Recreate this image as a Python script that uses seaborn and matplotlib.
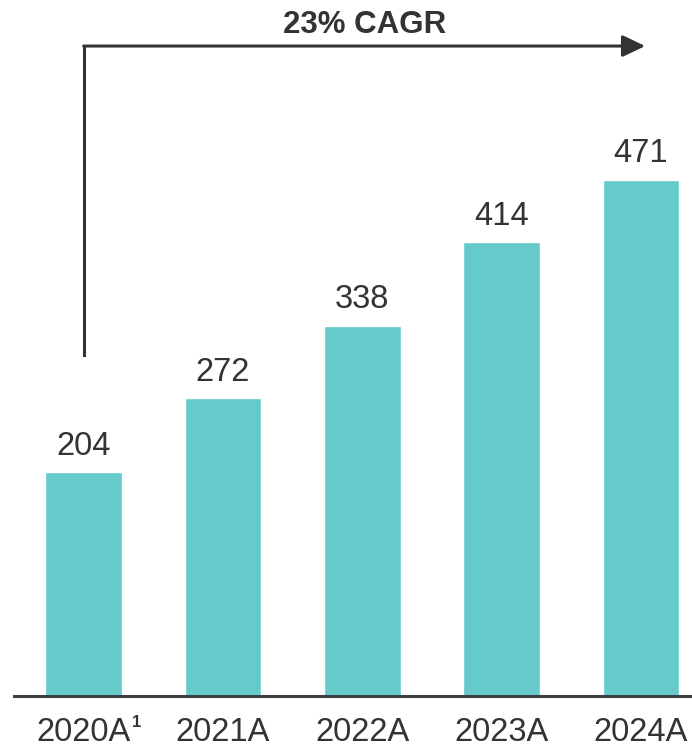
import matplotlib
matplotlib.use("Agg")
import matplotlib.pyplot as plt
import seaborn as sns
import pandas as pd

years = ["2020A", "2021A", "2022A", "2023A", "2024A"]
values = [204, 272, 338, 414, 471]
cagr_label = "23% CAGR"
footnote_mark = "1"

bar_color = "#66C9CA"
text_color = "#333333"

sns.set_theme(style="white")
plt.rcParams["font.family"] = ["Liberation Sans", "DejaVu Sans"]

df = pd.DataFrame({"year": years, "value": values})

fig = plt.figure(figsize=(6.92, 7.48), dpi=100)
ax = fig.add_axes([14 / 692, 52 / 748, 678 / 692, 696 / 748])

sns.barplot(data=df, x="year", y="value", color=bar_color, saturation=1,
            width=0.55, ax=ax)

ax.set_xlim(-0.5, 4.366)
ax.set_ylim(0, 635)

# value labels above each bar
for i, v in enumerate(values):
    ax.annotate(f"{v}", xy=(i, v), xytext=(0, 12.5), textcoords="offset points",
                ha="center", va="baseline", fontsize=23.5, color=text_color)

# axis styling
for side in ["top", "right", "left"]:
    ax.spines[side].set_visible(False)
ax.spines["bottom"].set_color("#3b4046")
ax.spines["bottom"].set_linewidth(2.2)
ax.set_yticks([])
ax.set_xlabel("")
ax.set_ylabel("")
ax.tick_params(axis="x", length=0, pad=15, labelsize=23.5, labelcolor=text_color)

# footnote marker next to the first category label
ax.annotate(footnote_mark, xy=(0, 0), xycoords="data", xytext=(38, -19),
            textcoords="offset points", ha="center", va="center",
            fontsize=12, fontweight="bold", color=text_color,
            annotation_clip=False)

# growth arrow
y_top = 593
ax.plot([0, 0], [311, y_top], color=text_color, lw=2.2,
        solid_capstyle="projecting", clip_on=False)
ax.annotate("", xy=(4.03, y_top), xytext=(0, y_top),
            arrowprops=dict(arrowstyle="-|>,head_length=1.15,head_width=0.55",
                            lw=2.2, color=text_color, shrinkA=0, shrinkB=0),
            annotation_clip=False)
ax.text(2.02, 612, cagr_label, ha="center", va="center", fontsize=22.5,
        fontweight="bold", color=text_color, clip_on=False)

fig.savefig("out.png", dpi=100)
